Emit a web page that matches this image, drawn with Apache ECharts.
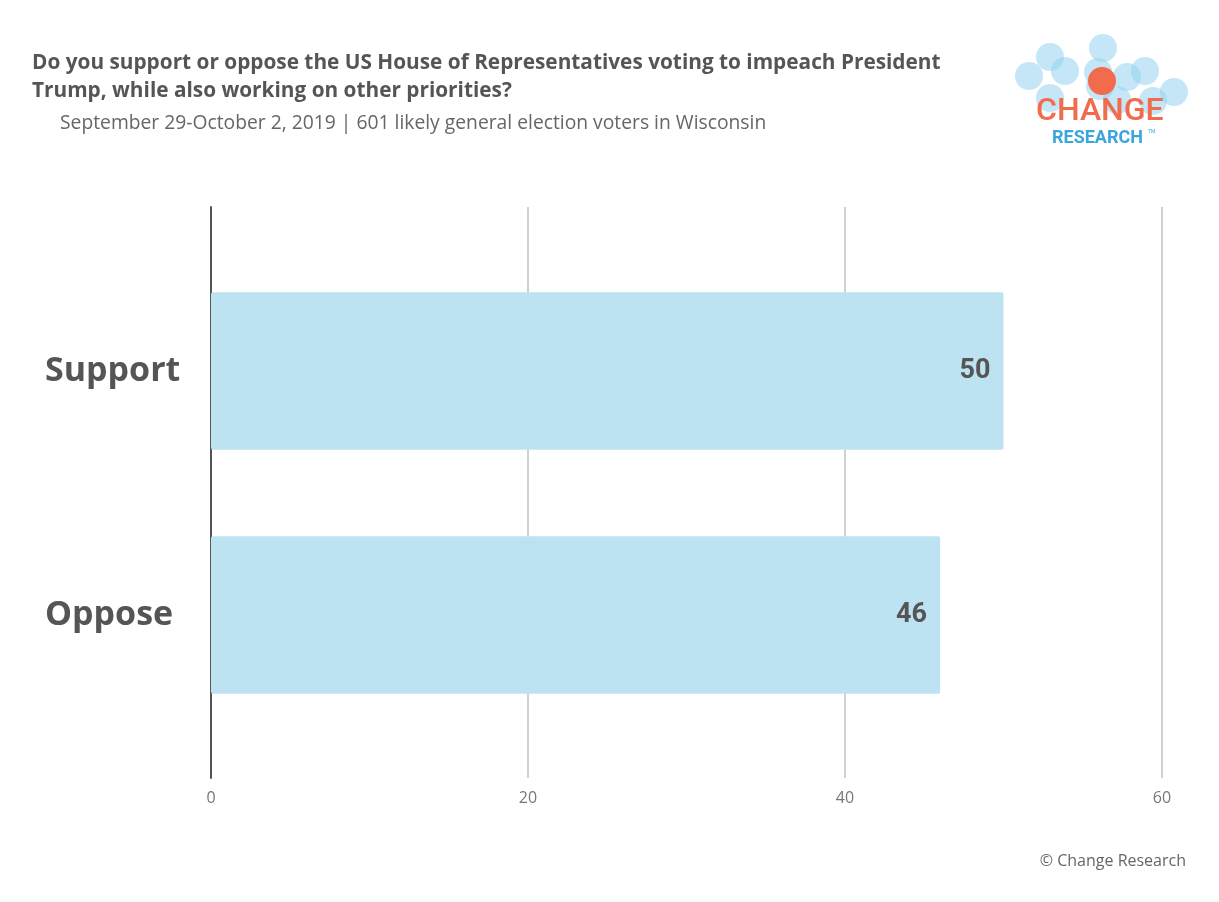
<!DOCTYPE html>
<html>
<head>
<meta charset="utf-8">
<style>
  html, body { margin: 0; padding: 0; background: #fff; }
  #chart { width: 1219px; height: 902px; }
</style>
<script src="https://cdn.jsdelivr.net/npm/echarts@6/dist/echarts.min.js"></script>
</head>
<body>
<div id="chart"></div>
<script>
const categories = ['Support', 'Oppose']
const values = [50, 46]
const xTicks = { min: 0, max: 60, interval: 20 }

const titleText = 'Do you support or oppose the US House of Representatives voting to impeach President\nTrump, while also working on other priorities?'
const subtitleText = 'September 29-October 2, 2019 | 601 likely general election voters in Wisconsin'

// logo bubbles (decoration only)
const bubbles = [
	[1103, 48], [1050, 57], [1065, 71], [1029, 76], [1098, 72], [1127, 77],
	[1145, 71], [1174, 92], [1050, 98], [1153, 101], [1100, 86], [1117, 100]
]

const font = '"Open Sans", sans-serif'

const chart = echarts.init(document.getElementById('chart'))

const logo = bubbles.map(function (p) {
	return {
		type: 'circle',
		shape: { cx: p[0], cy: p[1], r: 14 },
		style: { fill: 'rgba(148, 210, 238, 0.55)' },
		silent: true
	}
})
logo.push({
	type: 'circle',
	shape: { cx: 1102, cy: 81, r: 14 },
	style: { fill: '#f26b4d' }
})
logo.push({
	type: 'text',
	left: 1036, top: 96,
	style: { text: 'CHANGE', fill: '#f26b4d', font: '500 32px Roboto, sans-serif' }
})
logo.push({
	type: 'text',
	left: 1052, top: 129,
	style: { text: 'RESEARCH', fill: '#3aa6dc', font: 'bold 18px Roboto, sans-serif' }
})
logo.push({
	type: 'text',
	left: 1148, top: 129,
	style: { text: 'TM', fill: '#3aa6dc', font: '5px Roboto, sans-serif' }
})

chart.setOption({
	backgroundColor: '#fff',
	animation: false,
	title: [
		{
			text: titleText,
			left: 27, top: 44,
			textStyle: { fontFamily: font, fontSize: 20.8, fontWeight: 'bold', color: '#555', lineHeight: 28 }
		},
		{
			text: subtitleText,
			left: 55, top: 109,
			textStyle: { fontFamily: font, fontSize: 19.3, fontWeight: 'normal', color: '#666' }
		},
		{
			text: '© Change Research',
			right: 28, top: 848,
			textStyle: { fontFamily: font, fontSize: 16, fontWeight: 'normal', color: '#666' }
		}
	],
	graphic: logo,
	grid: [
		{ left: 211, right: 57, top: 207, bottom: 124 },
		{ left: 211, right: 57, top: 249, bottom: 165 }
	],
	xAxis: [
		{
			gridIndex: 0, type: 'value',
			min: xTicks.min, max: xTicks.max, interval: xTicks.interval,
			axisLine: { show: false }, axisTick: { show: false },
			splitLine: { lineStyle: { color: '#d0d0d0', width: 2 } },
			axisLabel: { color: '#777', fontSize: 16, fontFamily: font, margin: 12 }
		},
		{
			gridIndex: 1, type: 'value',
			min: xTicks.min, max: xTicks.max, interval: xTicks.interval,
			show: false
		}
	],
	yAxis: [
		{
			gridIndex: 0, type: 'value', min: 0, max: 1,
			axisLine: { show: true, lineStyle: { color: '#555', width: 2 } },
			axisTick: { show: false }, axisLabel: { show: false }, splitLine: { show: false }
		},
		{
			gridIndex: 1, type: 'category', data: categories, inverse: true,
			axisLine: { show: false }, axisTick: { show: false }, splitLine: { show: false },
			axisLabel: {
				align: 'left', margin: 166,
				color: '#555', fontSize: 34, fontWeight: 'bold', fontFamily: font
			}
		}
	],
	series: [{
		type: 'bar',
		xAxisIndex: 1, yAxisIndex: 1,
		data: values,
		barCategoryGap: '35.5%',
		itemStyle: { color: '#bde3f2', borderRadius: 2 },
		label: {
			show: true, position: 'insideRight', distance: 13,
			color: '#555', fontSize: 27, fontWeight: 'bold', fontFamily: 'Roboto, sans-serif'
		}
	}]
})
</script>
</body>
</html>
